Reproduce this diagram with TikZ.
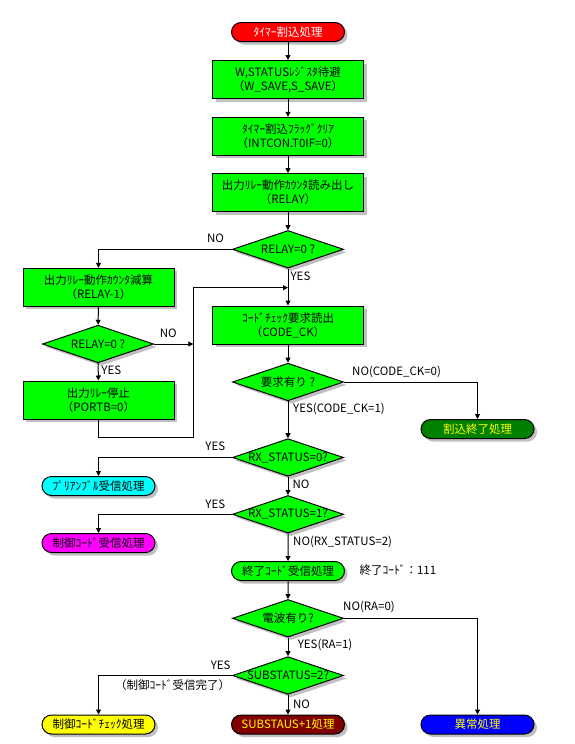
\documentclass[tikz,border=0pt]{standalone}
\usepackage{fontspec}
\setmainfont{Noto Sans CJK JP}
\usetikzlibrary{shapes.geometric, shapes.misc, shadows, arrows.meta}

\definecolor{flowgreen}{RGB}{0,255,0}
\definecolor{startred}{RGB}{255,0,0}
\definecolor{exitgreen}{RGB}{0,128,0}
\definecolor{precyan}{RGB}{0,255,255}
\definecolor{ctlmagenta}{RGB}{255,0,255}
\definecolor{chkyellow}{RGB}{255,255,0}
\definecolor{incmaroon}{RGB}{128,0,0}
\definecolor{errblue}{RGB}{0,0,255}
\definecolor{shadowgray}{RGB}{192,192,192}

\begin{document}
\begin{tikzpicture}[x=1pt, y=-1pt, line width=1pt,
        font=\fontsize{11.5}{14}\selectfont,
        boxshadow/.style={drop shadow={shadow xshift=3pt, shadow yshift=-3pt, fill=shadowgray, opacity=1}},
        procbox/.style={rectangle, draw, fill=flowgreen, boxshadow, minimum width=151pt, minimum height=38pt, align=center, inner sep=0pt},
        decide/.style={diamond, draw, fill=flowgreen, boxshadow, aspect=3, minimum width=111pt, minimum height=37.6pt, inner xsep=-8pt, inner ysep=0pt},
        term/.style={rounded rectangle, draw, boxshadow, minimum width=113pt, minimum height=19pt, inner xsep=0pt, inner ysep=1pt},
        flow/.style={-{Triangle[width=5pt,length=5pt]}},
        lbl/.style={inner sep=0pt}]
        \fill[white] (0,0) rectangle (575,744);

        \coordinate (loop) at (193.3,437.7);
        \coordinate (merge) at (288,287.7);

        \node[term, fill=startred, text=white] (start) at (288,32) {ﾀｲﾏｰ割込処理};
        \node[procbox] (save) at (288,79.5) {W,STATUSﾚｼﾞｽﾀ待避\\（W\_SAVE,S\_SAVE）};
        \node[procbox] (clear) at (288,136.3) {ﾀｲﾏｰ割込ﾌﾗｯｸﾞｸﾘｱ\\（INTCON.T0IF=0）};
        \node[procbox] (read) at (288,192.7) {出力ﾘﾚｰ動作ｶｳﾝﾀ読み出し\\（RELAY）};
        \node[decide] (zero) at (288,249.3) {RELAY=0 ?};
        \node[procbox] (dec) at (98.5,287.3) {出力ﾘﾚｰ動作ｶｳﾝﾀ減算\\（RELAY-1）};
        \node[decide] (zero2) at (98,344) {RELAY=0 ?};
        \node[procbox] (stop) at (98.5,400) {出力ﾘﾚｰ停止\\（PORTB=0）};
        \node[procbox] (ckread) at (288,325) {ｺｰﾄﾞﾁｪｯｸ要求読出\\（CODE\_CK）};
        \node[decide] (req) at (288,382) {要求有り ?};
        \node[term, fill=exitgreen, text=chkyellow] (exit) at (477.5,429) {割込終了処理};
        \node[decide] (rx0) at (288,457.5) {RX\_STATUS=0?};
        \node[term, fill=precyan] (pre) at (98.5,486) {ﾌﾟﾘｱﾝﾌﾞﾙ受信処理};
        \node[decide] (rx1) at (288,514.3) {RX\_STATUS=1?};
        \node[term, fill=ctlmagenta] (ctl) at (98.5,543) {制御ｺｰﾄﾞ受信処理};
        \node[term, fill=flowgreen] (endcode) at (288,571) {終了ｺｰﾄﾞ受信処理};
        \node[lbl, anchor=west] (note) at (359,570) {終了ｺｰﾄﾞ：111};
        \node[decide] (radio) at (288,618.3) {電波有り?};
        \node[decide] (sub) at (288,675.5) {SUBSTATUS=2?};
        \node[term, fill=chkyellow] (check) at (98.5,724.5) {制御ｺｰﾄﾞﾁｪｯｸ処理};
        \node[term, fill=incmaroon, text=chkyellow] (inc) at (288,724.5) {SUBSTAUS+1処理};
        \node[term, fill=errblue, text=chkyellow] (error) at (477.5,724.5) {異常処理};

        \draw[flow] (start) -- (save);
        \draw[flow] (save) -- (clear);
        \draw[flow] (clear) -- (read);
        \draw[flow] (read) -- (zero);
        \draw[flow] (zero.west) -| (dec.north);
        \draw[flow] (zero) -- (ckread);
        \draw[flow] (dec) -- (zero2);
        \draw[flow] (zero2) -- (stop);
        \draw[flow] (zero2.east) -- (zero2.east -| loop);
        \draw (stop.south) |- (loop);
        \draw[flow] (loop) |- (merge);
        \draw[flow] (ckread) -- (req);
        \draw[flow] (req.east) -| (exit.north);
        \draw[flow] (req) -- (rx0);
        \draw[flow] (rx0.west) -| (pre.north);
        \draw[flow] (rx0) -- (rx1);
        \draw[flow] (rx1.west) -| (ctl.north);
        \draw[flow] (rx1) -- (endcode);
        \draw[flow] (endcode) -- (radio);
        \draw[flow] (radio.east) -| (error.north);
        \draw[flow] (radio) -- (sub);
        \draw[flow] (sub.west) -| (check.north);
        \draw[flow] (sub) -- (inc);

        \node[lbl] at (215.5,238.3) {NO};
        \node[lbl] at (300.5,276.7) {YES};
        \node[lbl] at (168.3,333) {NO};
        \node[lbl] at (111.3,370.7) {YES};
        \node[lbl, anchor=west] at (351.7,371.7) {NO(CODE\_CK=0)};
        \node[lbl, anchor=west] at (292.7,409.3) {YES(CODE\_CK=1)};
        \node[lbl] at (215.3,446.7) {YES};
        \node[lbl] at (301,484) {NO};
        \node[lbl] at (215.3,504) {YES};
        \node[lbl, anchor=west] at (292.7,541.7) {NO(RX\_STATUS=2)};
        \node[lbl, anchor=west] at (342.7,607.3) {NO(RA=0)};
        \node[lbl, anchor=west] at (297.3,645) {YES(RA=1)};
        \node[lbl] at (220.7,664.8) {YES};
        \node[lbl] at (172.5,684.8) {（制御ｺｰﾄﾞ受信完了）};
        \node[lbl] at (301.5,704.5) {NO};
    \end{tikzpicture}
\end{document}
